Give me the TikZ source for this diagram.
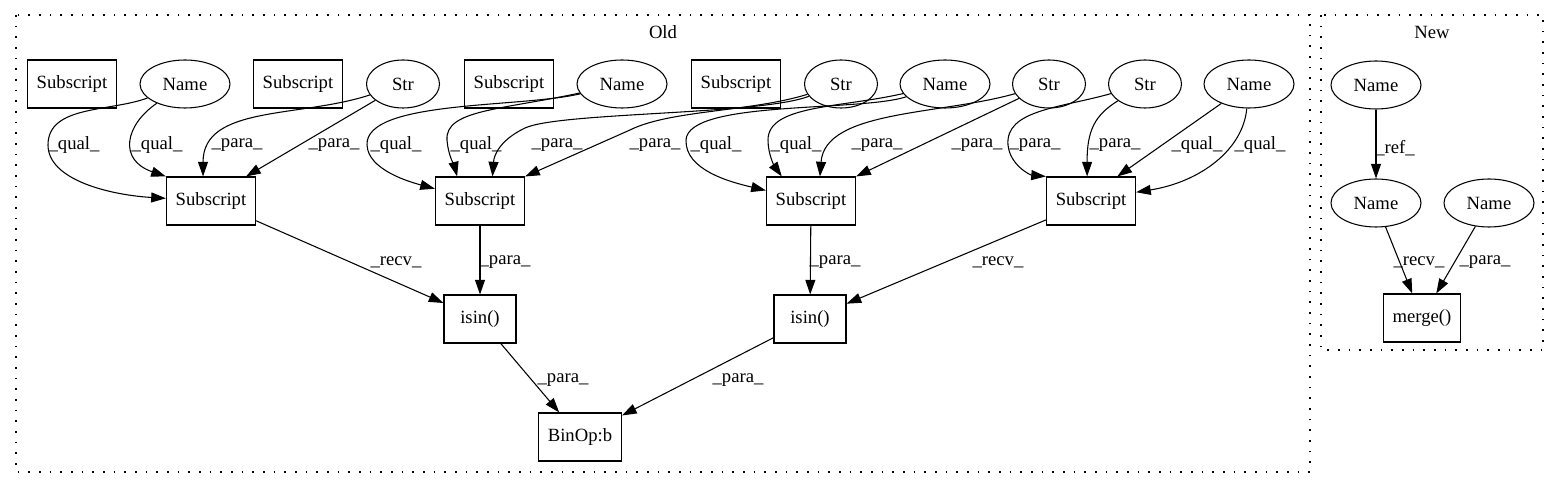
\documentclass[tikz,border=0pt]{standalone}
\usepackage{fontspec}
\setmainfont{Liberation Serif}
\usetikzlibrary{arrows.meta,shapes.geometric}

\begin{document}
\begin{tikzpicture}[
    x=0.75pt, y=-0.75pt,
    font=\rmfamily\fontsize{14}{16}\selectfont,
    opbox/.style={draw, line width=0.8pt, rectangle, minimum width=54pt, minimum height=36pt, inner xsep=7pt},
    namenode/.style={draw, line width=0.8pt, ellipse, inner sep=0pt, minimum width=67.5pt, minimum height=36pt},
    strnode/.style={namenode, minimum width=54.75pt},
    flow/.style={-{Triangle[length=11pt,width=7.5pt]}, line width=0.8pt},
    lbl/.style={inner sep=0pt},
    cluster/.style={draw, line width=0.8pt, dash pattern=on 1.2pt off 6.8pt}
  ]
    \useasboundingbox (0,0) rectangle (1560,488);

    % clusters
    \draw[cluster] (16,15) rectangle (1310,472);
    \node (oldlbl) at (663,32) {Old};
    \draw[cluster] (1321,15) rectangle (1543,350);
    \node (newlbl) at (1432,32) {New};

    % old: top row
    \node[opbox] (a1) at (72,84) {Subscript};
    \node[namenode] (n1) at (185,84) {Name};
    \node[opbox] (a2) at (298,84) {Subscript};
    \node[strnode] (s1) at (403,84) {Str};
    \node[opbox] (a3) at (509,84) {Subscript};
    \node[namenode] (n2) at (622,84) {Name};
    \node[opbox] (a4) at (736,84) {Subscript};
    \node[strnode] (s2) at (841,84) {Str};
    \node[namenode] (n3) at (945,84) {Name};
    \node[strnode] (s3) at (1049,84) {Str};
    \node[strnode] (s4) at (1145,84) {Str};
    \node[namenode] (n4) at (1249,84) {Name};

    \node[opbox] (b1) at (211,201) {Subscript};
    \node[opbox] (b2) at (480,201) {Subscript};
    \node[opbox] (b3) at (811,201) {Subscript};
    \node[opbox] (b4) at (1091,201) {Subscript};

    \node[opbox] (i1) at (480,319) {isin()};
    \node[opbox] (i2) at (810,319) {isin()};
    \node[opbox] (bin) at (580,437) {BinOp:b};

    % new
    \node[namenode] (m1) at (1376,85) {Name};
    \node[namenode] (m2) at (1376,203) {Name};
    \node[namenode] (m3) at (1489,203) {Name};
    \node[opbox] (mg) at (1422,318) {merge()};

    % edges into the subscripts
    \draw[flow] (n1) .. controls (110,112) and (48,105) .. (48,145) .. controls (48,180) and (110,195) .. (b1);
    \draw[flow] (n1) .. controls (125,125) and (118,160) .. (b1.north west);
    \draw[flow] (s1) .. controls (300,118) and (203,105) .. (b1.108);
    \draw[flow] (s1) -- (b1.35);

    \draw[flow] (n2) .. controls (520,108) and (365,100) .. (367,145) .. controls (368,170) and (410,182) .. (b2);
    \draw[flow] (n2) .. controls (500,110) and (445,110) .. (447,140) .. controls (448,155) and (455,168) .. (b2.133);
    \draw[flow] (s2) .. controls (760,115) and (560,112) .. (525,128) .. controls (500,140) and (494,155) .. (b2.63);
    \draw[flow] (s2) .. controls (750,112) and (670,110) .. (630,130) -- (b2.north east);

    \draw[flow] (n3) .. controls (860,112) and (688,100) .. (686,140) .. controls (685,170) and (730,182) .. (b3);
    \draw[flow] (n3) .. controls (840,108) and (768,105) .. (768,140) .. controls (768,155) and (775,167) .. (b3.140);
    \draw[flow] (s3) .. controls (940,115) and (825,110) .. (b3.70);
    \draw[flow] (s3) -- (b3.north east);

    \draw[flow] (s4) .. controls (1060,108) and (1005,110) .. (1008,145) .. controls (1010,165) and (1030,175) .. (b4.north west);
    \draw[flow] (s4) .. controls (1095,115) and (1087,130) .. (b4.99);
    \draw[flow] (n4) -- (b4.43);
    \draw[flow] (n4) .. controls (1243,150) and (1200,182) .. (b4.11);

    % lower edges
    \draw[flow] (b1) -- (i1);
    \draw[flow] (b2) -- (i1);
    \draw[flow] (b3) -- (i2);
    \draw[flow] (b4) -- (i2);
    \draw[flow] (i1) -- (bin);
    \draw[flow] (i2) -- (bin);

    \draw[flow] (m1) -- (m2);
    \draw[flow] (m2) -- (mg);
    \draw[flow] (m3) -- (mg);

    % edge labels
    \foreach \lx/\ly/\lt [count=\k] in {74/145/qual, 157/145/qual, 237/145/para, 334/145/para,
        396/145/qual, 476/145/qual, 557/145/para, 655/145/para,
        716/145/qual, 796/145/qual, 877/145/para, 977/145/para,
        1035/145/para, 1115/145/para, 1197/145/qual, 1260/145/qual,
        396/262/recv, 505/262/para, 835/262/para, 998/262/recv,
        563/380/para, 738/380/para,
        1395/148/ref, 1419/262/recv, 1485/262/para}
      \node[lbl] (lab\k) at (\lx,\ly) {\_\lt\_};
  \end{tikzpicture}
\end{document}
